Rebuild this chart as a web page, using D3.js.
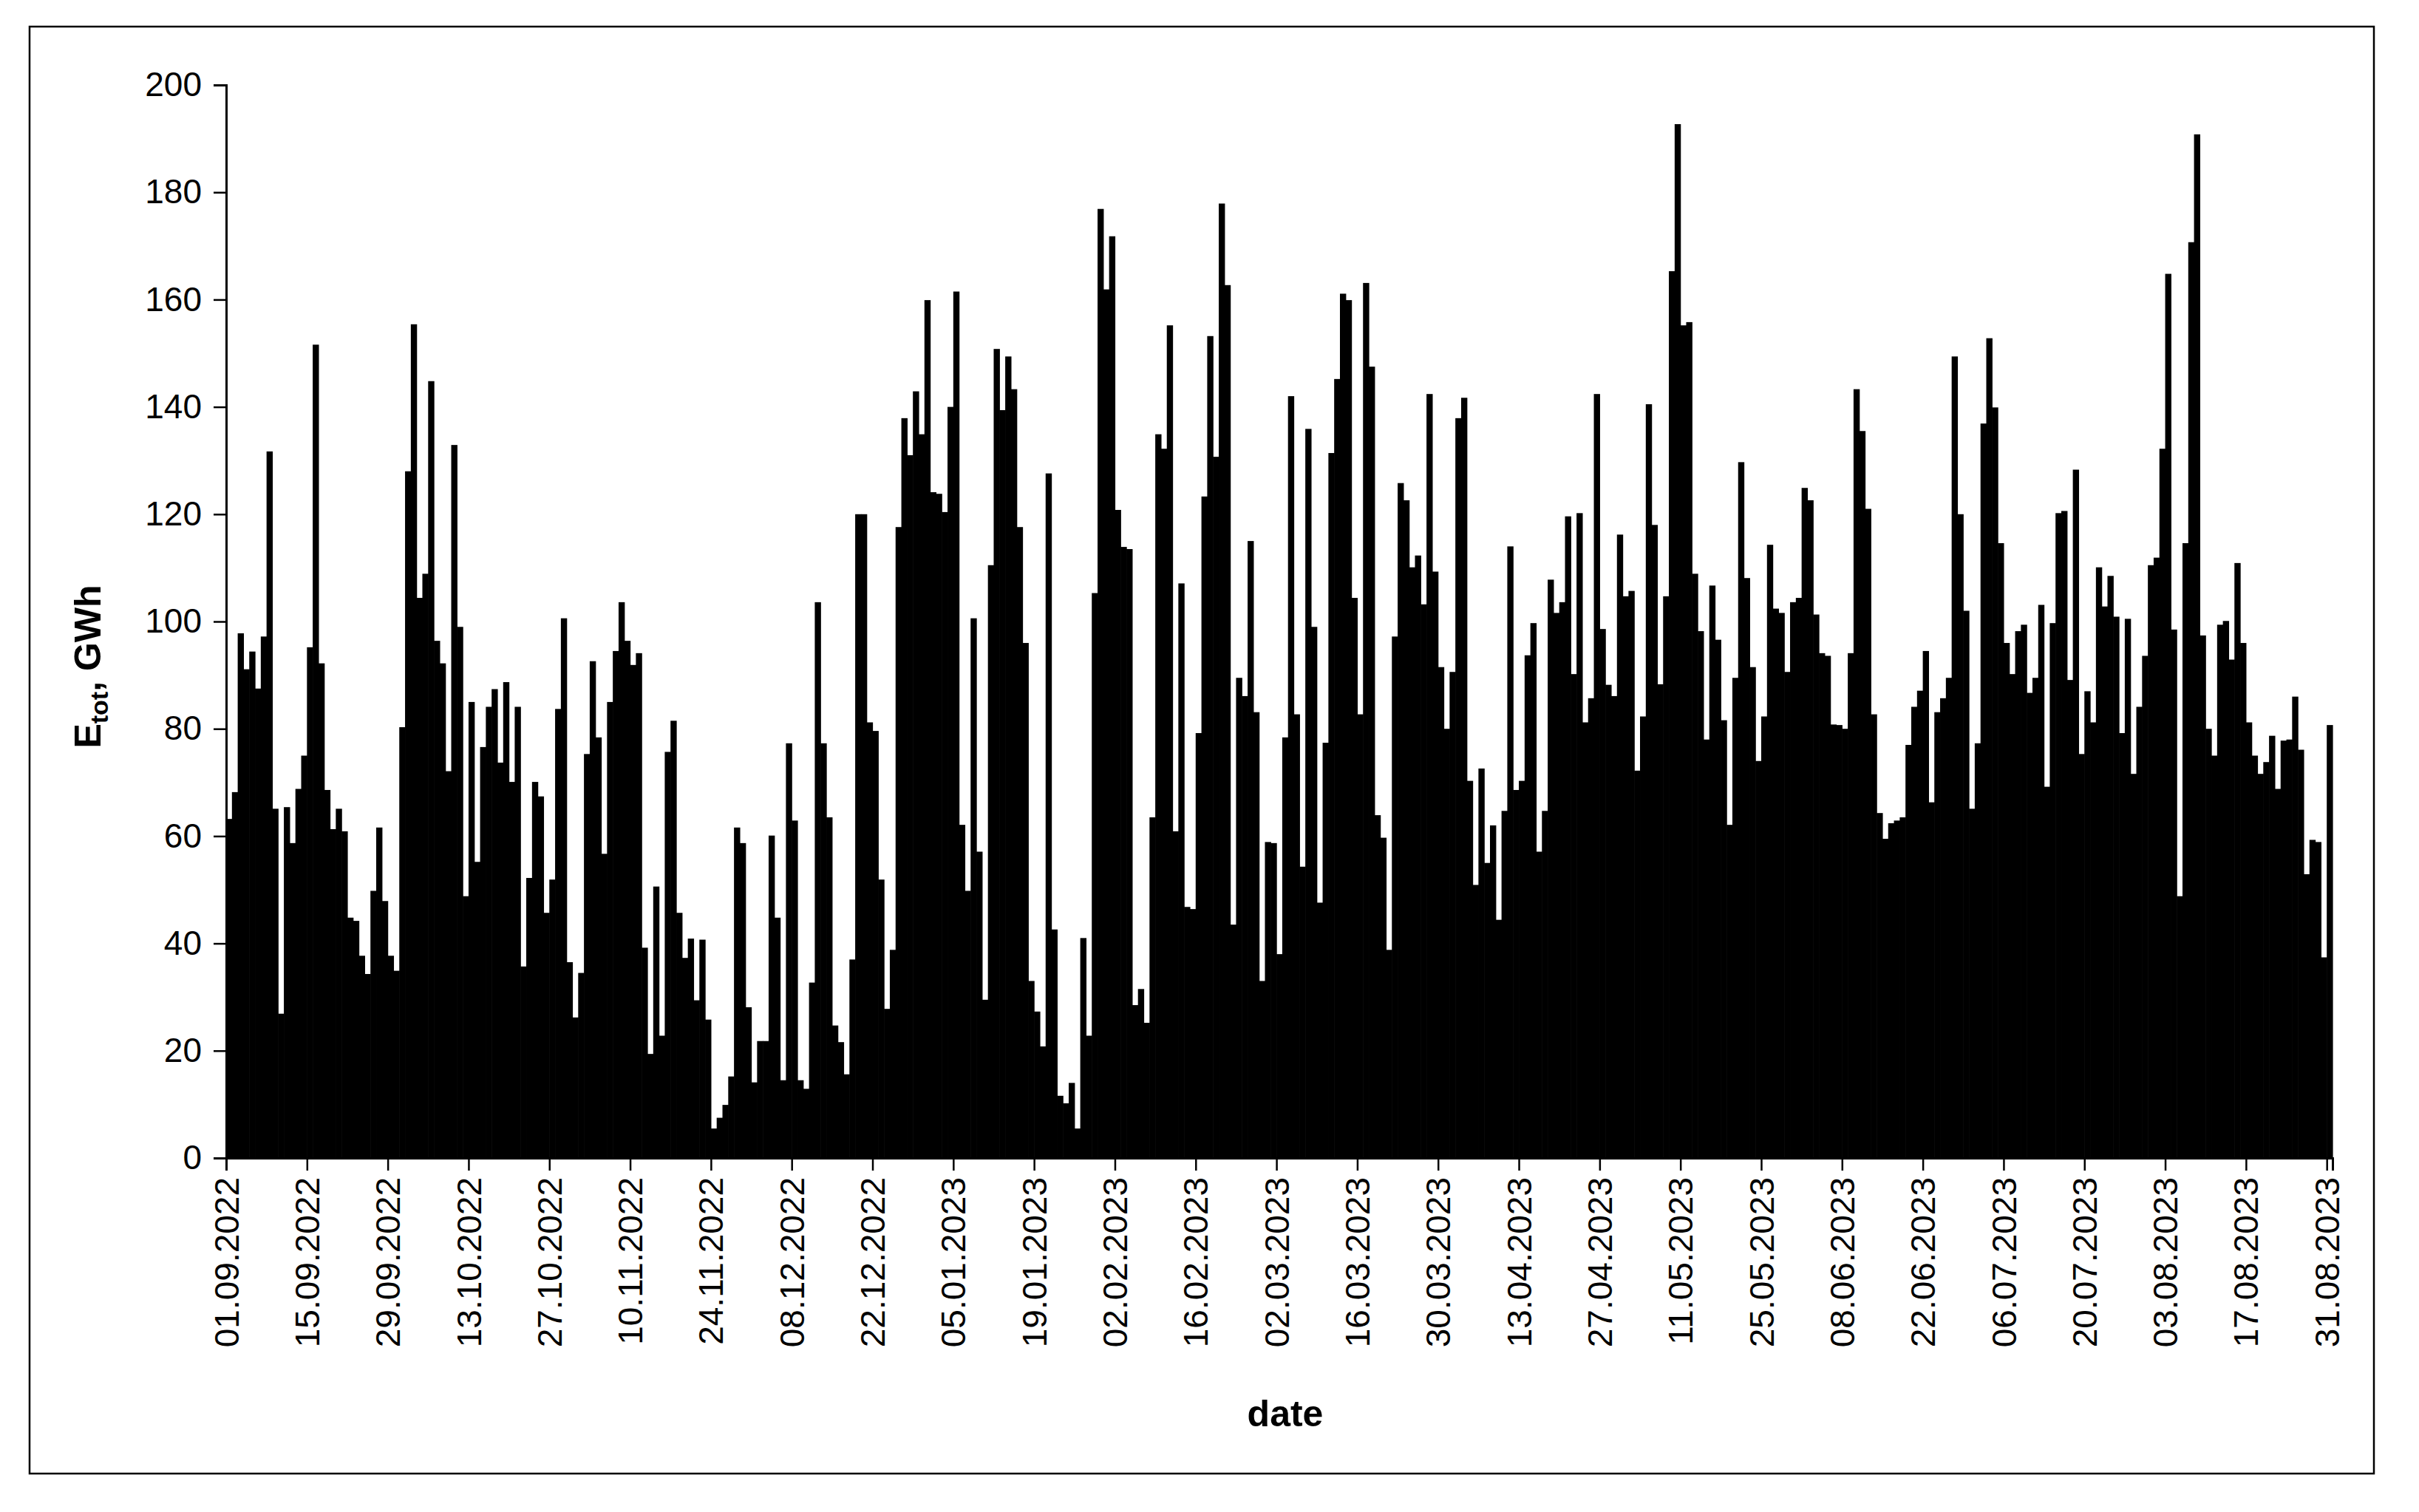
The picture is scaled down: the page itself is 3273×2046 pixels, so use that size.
<!DOCTYPE html>
<html><head><meta charset="utf-8">
<script src="https://cdn.jsdelivr.net/npm/d3@7"></script>
<style>body{margin:0;background:#fff}</style></head>
<body><svg id="c" width="3273" height="2046"></svg>
<script>
const sep22=[63.2,68.2,97.8,91.1,94.4,87.5,97.2,131.7,65.1,26.9,65.4,58.7,68.8,75,95.2,151.6,92.2,68.6,61.3,65.1,60.9,44.8,44.2,37.7,34.3,49.8,61.6,47.9,37.7,34.9];
const oct22=[80.3,128,155.4,104.4,108.9,144.8,96.4,92.2,72.1,132.9,99,48.8,85,55.2,76.6,84.1,87.4,73.7,88.7,70.1,84.1,35.7,52.2,70.1,67.4,45.7,51.9,83.7,100.6,36.5,26.2];
const nov22=[34.5,75.3,92.6,78.4,56.7,85,94.5,103.6,96.4,91.9,94.1,39.2,19.4,50.6,22.8,75.7,81.5,45.7,37.3,40.9,29.4,40.7,25.8,5.5,7.5,9.9,15.2,61.6,58.7,28.1];
const dec22=[14.1,21.8,21.8,60.1,44.8,14.5,77.3,62.9,14.5,12.9,32.7,103.6,77.3,63.5,24.7,21.6,15.6,37,120,120,81.2,79.6,51.9,27.8,38.8,117.6,137.9,131,142.9,134.9,159.9];
const jan23=[124.1,123.8,120.4,140,161.5,62.1,49.8,100.6,57.1,29.5,110.5,150.8,139.4,149.4,143.3,117.6,96,33,27.3,20.8,127.6,42.6,11.6,10.2,14,5.5,41,22.8,105.3,176.9,161.9];
const feb23=[171.8,120.8,113.9,113.5,28.5,31.5,25.2,63.5,134.9,132.2,155.2,60.9,107.1,46.8,46.4,79.2,123.3,153.2,130.7,177.9,162.7,43.5,89.5,86.1,115,83.1,33,58.9];
const mar23=[58.7,38,78.4,142,82.7,54.3,135.9,99,47.6,77.4,131.4,145.2,161.1,159.9,104.4,82.7,163.1,147.5,63.9,59.7,38.8,97.2,125.8,122.6,110.1,112.3,103.2,142.4,109.3,91.5,80];
const apr23=[90.6,137.9,141.7,70.3,50.9,72.6,55,62,44.4,64.7,114,68.6,70.3,93.7,99.7,57.1,64.7,107.8,101.6,103.6,119.6,90.2,120.2,81.2,85.7,142.4,98.6,88.2,86.1,116.2];
const may23=[104.7,105.7,72.2,82.3,140.5,118,88.3,104.7,165.3,192.7,155.2,155.8,108.9,98.2,78,106.7,96.6,81.6,62.1,89.5,129.7,108.1,91.5,74,82.3,114.3,102.4,101.6,90.6,103.6,104.4];
const jun23=[124.9,122.6,101.3,94.1,93.6,80.8,80.7,80,94.1,143.3,135.5,121,82.7,64.3,59.5,62.4,62.9,63.5,77,84.1,87.1,94.5,66.3,83.1,85.7,89.5,149.4,120,102,65.1];
const jul23=[77.3,136.9,152.8,139.9,114.6,96,90.2,98.2,99.4,86.7,89.5,103.1,69.2,99.7,120.2,120.6,89.1,128.3,75.3,87,81.2,110.1,102.8,108.5,100.9,79.2,100.5,71.6,84.1,93.6,110.5];
const aug23=[111.9,132.2,164.8,98.5,48.8,114.6,170.7,190.8,97.4,80,75,99.4,100.1,92.9,110.9,96,81.2,75,71.6,73.8,78.7,68.8,77.8,78,86,76.1,52.9,59.3,58.9,37.4,80.7];
const tickLabels=["01.09.2022","15.09.2022","29.09.2022","13.10.2022","27.10.2022","10.11.2022","24.11.2022","08.12.2022","22.12.2022","05.01.2023","19.01.2023","02.02.2023","16.02.2023","02.03.2023","16.03.2023","30.03.2023","13.04.2023","27.04.2023","11.05.2023","25.05.2023","08.06.2023","22.06.2023","06.07.2023","20.07.2023","03.08.2023","17.08.2023","31.08.2023"];
const yTicks=[0,20,40,60,80,100,120,140,160,180,200];

const values=[].concat(sep22,oct22,nov22,dec22,jan23,feb23,mar23,apr23,may23,jun23,jul23,aug23);
const svg=d3.select("#c");
svg.append("rect").attr("width",3273).attr("height",2046).attr("fill","#fff");
svg.append("rect").attr("x",40).attr("y",36).attr("width",3172).attr("height",1958).attr("fill","none").attr("stroke","#000").attr("stroke-width",2.5);
const x=d3.scaleLinear().domain([0,values.length]).range([306,3156]);
const y=d3.scaleLinear().domain([0,200]).range([1567,115]);
svg.append("g").selectAll("rect").data(values).join("rect")
 .attr("x",(d,i)=>x(i)).attr("width",(d,i)=>x(i+1)-x(i)+0.6)
 .attr("y",d=>y(d)).attr("height",d=>y(0)-y(d)).attr("fill","#000");
const font="Liberation Sans, Arial, sans-serif";
const ya=svg.append("g").attr("transform","translate(306,0)")
 .call(d3.axisLeft(y).tickValues(yTicks).tickSize(17).tickPadding(16).tickFormat(d3.format("d")));
const xa=svg.append("g").attr("transform","translate(0,1567)")
 .call(d3.axisBottom(x).tickValues(tickLabels.map((d,i)=>i*14)).tickSize(17).tickFormat((d,i)=>tickLabels[i]));
[ya,xa].forEach(g=>{g.select(".domain").attr("stroke-width",3);g.selectAll(".tick line").attr("stroke-width",2.5);
 g.selectAll("text").attr("font-family",font).attr("font-size",46).attr("fill","#000");});
xa.selectAll("text").attr("transform","rotate(-90)").attr("text-anchor","end").attr("dy","0.35em").attr("x",-26).attr("y",0);
const yt=svg.append("text").attr("transform","translate(136,902) rotate(-90)").attr("text-anchor","middle")
 .attr("font-family",font).attr("font-weight","bold").attr("font-size",50);
yt.append("tspan").text("E");
yt.append("tspan").text("tot").attr("font-size",34).attr("dy",10);
yt.append("tspan").text(", GWh").attr("dy",-10);
svg.append("text").attr("x",1739).attr("y",1930).attr("text-anchor","middle").attr("font-family",font)
 .attr("font-weight","bold").attr("font-size",50).text("date");
</script></body></html>
